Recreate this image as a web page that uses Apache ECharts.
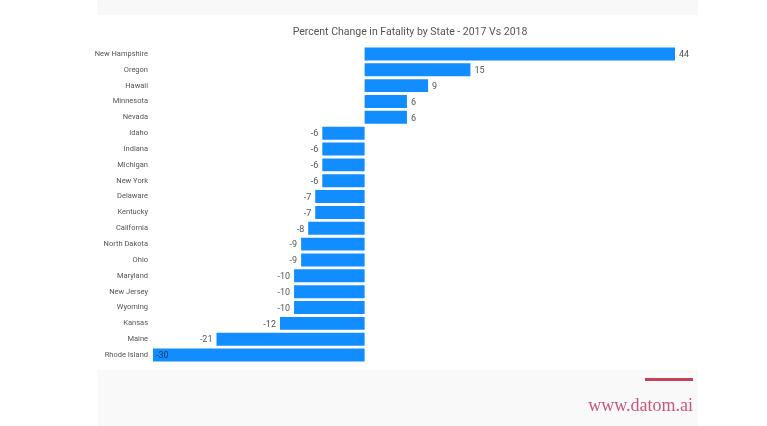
<!DOCTYPE html>
<html>
<head>
<meta charset="utf-8">
<script src="https://cdn.jsdelivr.net/npm/echarts@6/dist/echarts.min.js"></script>
<style>
html,body{margin:0;padding:0;background:#fff;}
#c{width:767px;height:426px;}
</style>
</head>
<body>
<div id="c"></div>
<script>
const states = ["New Hampshire","Oregon","Hawaii","Minnesota","Nevada","Idaho","Indiana","Michigan","New York","Delaware","Kentucky","California","North Dakota","Ohio","Maryland","New Jersey","Wyoming","Kansas","Maine","Rhode Island"];
const pctChange = [44,15,9,6,6,-6,-6,-6,-6,-7,-7,-8,-9,-9,-10,-10,-10,-12,-21,-30];
const titleText = "Percent Change in Fatality by State - 2017 Vs 2018";

const chart = echarts.init(document.getElementById('c'));
const data = pctChange.map((v, i) => {
  let pos = v >= 0 ? 'right' : 'left';
  let item = {value: v, label: {position: pos}};
  if (i === pctChange.length - 1) {
    item.label = {position: 'insideLeft', color: '#1b3a6b', distance: 3};
  }
  return item;
});

chart.setOption({
  animation: false,
  backgroundColor: '#ffffff',
  title: {
    text: titleText,
    left: 405, top: 22, textAlign: 'center',
    textStyle: {fontFamily: 'Roboto', fontSize: 10.5, fontWeight: 'normal', color: '#555'}
  },
  graphic: [
    {type: 'rect', shape: {x: 97, y: 0, width: 601, height: 15}, style: {fill: '#f8f8f8'}, z: -10},
    {type: 'rect', shape: {x: 97, y: 370, width: 601, height: 56}, style: {fill: '#f9f9f9'}, z: -10},
    {type: 'rect', shape: {x: 645, y: 378, width: 48, height: 3}, style: {fill: '#c4415c'}},
    {type: 'text', right: 74, top: 397, style: {text: 'www.datom.ai', fill: '#c9577a', font: '18px "Liberation Serif", serif'}}
  ],
  grid: {left: 153, right: 92, top: 46, bottom: 63, containLabel: false},
  xAxis: {
    type: 'value', min: -30, max: 44,
    show: false
  },
  yAxis: {
    type: 'category', data: states, inverse: true,
    axisLine: {show: false}, axisTick: {show: false},
    axisLabel: {fontFamily: 'Roboto', fontSize: 7.5, color: '#555', margin: 5}
  },
  series: [{
    type: 'bar',
    data: data,
    barCategoryGap: '18%',
    itemStyle: {color: '#118DFF'},
    label: {show: true, fontFamily: 'Roboto', fontSize: 9, color: '#555', distance: 4, offset: [0, 1]}
  }]
});
</script>
</body>
</html>
